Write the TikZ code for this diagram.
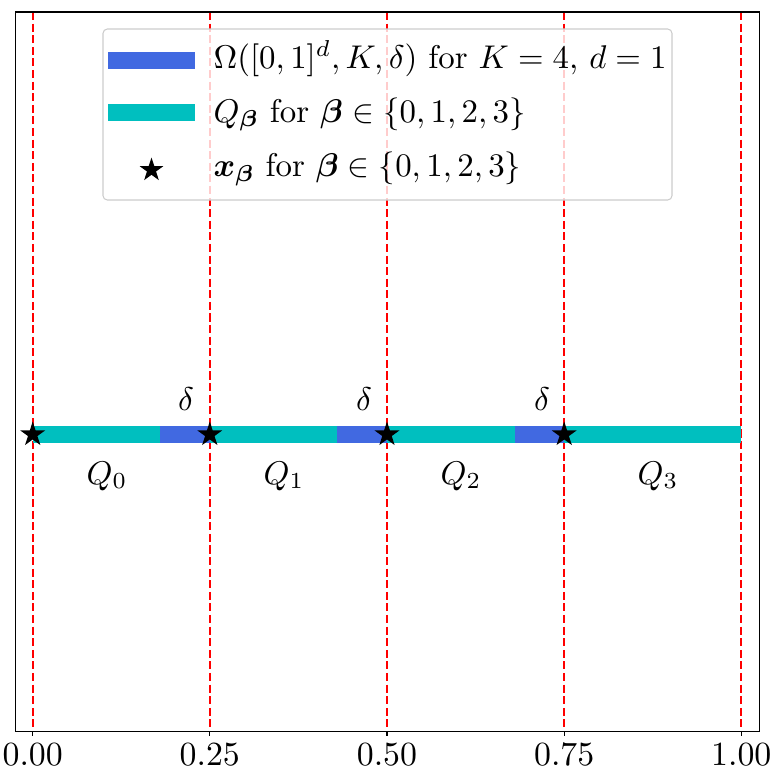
\documentclass[tikz,border=0pt]{standalone}
\usepackage{amsmath,amssymb,bm}
\usetikzlibrary{shapes.geometric}
\definecolor{royal}{RGB}{65,105,225}
\definecolor{cyanc}{RGB}{0,191,191}
\begin{document}
\begin{tikzpicture}[x=0.02cm,y=-0.02cm,
  txt/.style={font=\fontsize{10}{12}\selectfont, inner sep=0pt, scale=1.87},
  vline/.style={red, line width=1.3pt, dash pattern=on 4.6pt off 2pt},
  frame/.style={black, line width=0.6pt},
  starmark/.style={star, star points=5, star point ratio=2.618, fill=black, draw=none, minimum size=0.52cm, inner sep=0pt},
  omegabar/.style={fill=royal, draw=none},
  qbar/.style={fill=cyanc, draw=none},
  lbl/.style={txt, anchor=base},
  ticklbl/.style={txt, anchor=base, scale=1.03}
]
\useasboundingbox (0,0) rectangle (775,775);
% axes frame corners
\coordinate (fTL) at (15.7,12);
\coordinate (fBR) at (759.3,731.3);
% vertical dashed lines
\foreach \i/\xx in {0/32.7,1/209.8,2/387,3/564.2,4/741.3}{
  \coordinate (vt\i) at (\xx,12);
  \coordinate (vb\i) at (\xx,731.3);
  \draw[vline] (vt\i) -- (vb\i);
}
% bars
\fill[qbar] (32.7,426) rectangle (160.2,443);
\fill[omegabar] (160.2,426) rectangle (209.8,443);
\fill[qbar] (209.8,426) rectangle (337.4,443);
\fill[omegabar] (337.4,426) rectangle (387,443);
\fill[qbar] (387,426) rectangle (514.6,443);
\fill[omegabar] (514.6,426) rectangle (564.2,443);
\fill[qbar] (564.2,426) rectangle (741.3,443);
% stars
\node[starmark] (s0) at (32.7,434.5) {};
\node[starmark] (s1) at (209.8,434.5) {};
\node[starmark] (s2) at (387,434.5) {};
\node[starmark] (s3) at (564.2,434.5) {};
% delta labels
\node[lbl] (d1) at (186,410) {$\delta$};
\node[lbl] (d2) at (364,410) {$\delta$};
\node[lbl] (d3) at (542,410) {$\delta$};
% Q labels
\node[lbl] (q0) at (107,484) {$Q_0$};
\node[lbl] (q1) at (284,484) {$Q_1$};
\node[lbl] (q2) at (461,484) {$Q_2$};
\node[lbl] (q3) at (658,484) {$Q_3$};
% frame
\draw[frame] (fTL) rectangle (fBR);
% ticks and labels
\foreach \i/\xx/\t in {0/32.7/0.00,1/209.8/0.25,2/387/0.50,3/564.2/0.75,4/741.3/1.00}{
  \coordinate (tb\i) at (\xx,735.5);
  \draw[frame] (vb\i) -- (tb\i);
  \node[ticklbl] (tl\i) at (\xx,765) {$\t$};
}
% legend
\draw[black!20, line width=0.6pt, fill=white, fill opacity=0.8, rounded corners=2.5pt] (103,29) rectangle (672,200);
\fill[omegabar] (108,51.5) rectangle (195,68.5);
\fill[qbar] (108,104) rectangle (195,121);
\node[starmark, minimum size=0.5cm] (ls) at (151.5,170) {};
\node[txt, anchor=base west] (l1) at (213,68.5) {$\Omega([0,1]^d, K, \delta)$ for $K=4$, $d=1$};
\node[txt, anchor=base west] (l2) at (213,122) {$Q_{\bm{\beta}}$ for $\bm{\beta}\in\{0,1,2,3\}$};
\node[txt, anchor=base west] (l3) at (213,176.5) {$\bm{x}_{\bm{\beta}}$ for $\bm{\beta}\in\{0,1,2,3\}$};
\end{tikzpicture}
\end{document}
